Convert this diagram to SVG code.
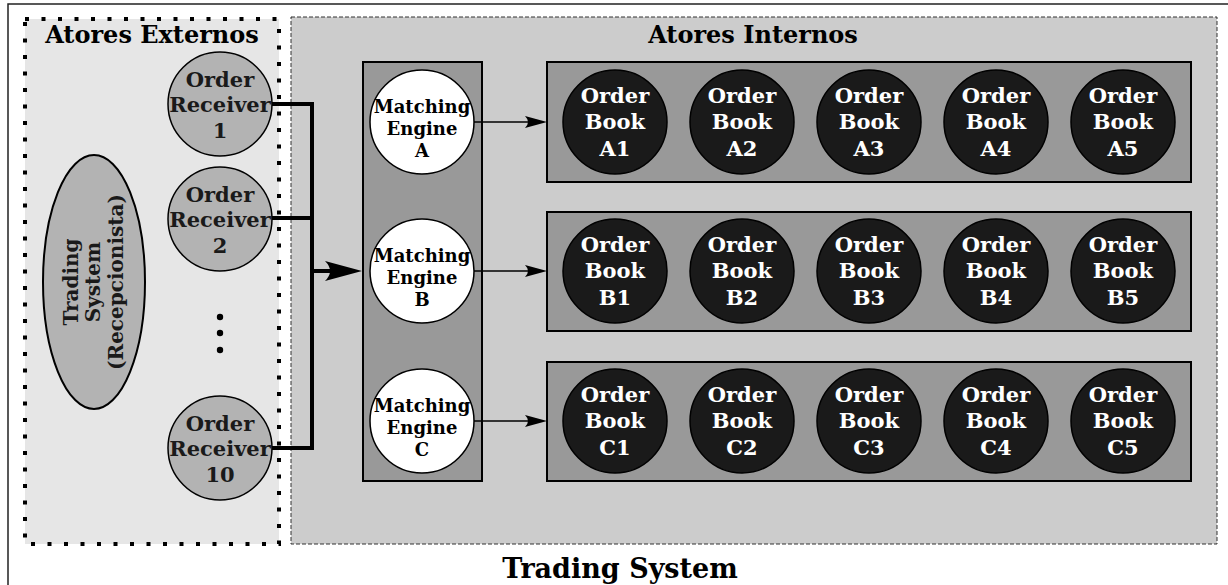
<svg xmlns="http://www.w3.org/2000/svg" width="1228" height="585" viewBox="0 0 1228 585">
<defs>
<style>
text{font-family:"DejaVu Serif","Liberation Serif",serif;font-weight:bold;text-anchor:middle;}
.title{font-size:24px;fill:#000;}
.big{font-size:27px;fill:#000;}
.rcv{fill:#b3b3b3;stroke:#000;stroke-width:1.5;}
.rcvt{font-size:21px;fill:#1a1a1a;}
.rott{font-size:20px;fill:#1a1a1a;}
.me{fill:#fff;stroke:#000;stroke-width:1.5;}
.met{font-size:18px;fill:#000;}
.box{fill:#999;stroke:#000;stroke-width:2;}
.book{fill:#1a1a1a;stroke:#000;stroke-width:1.5;}
.bookt{font-size:21px;fill:#fff;}
.thick{fill:none;stroke:#000;stroke-width:4;}
.thin{fill:none;stroke:#000;stroke-width:1.5;}
</style>
<marker id="bigArrow" markerUnits="userSpaceOnUse" viewBox="0 0 37 20" refX="15" refY="10" markerWidth="37" markerHeight="20" orient="auto" overflow="visible">
<path d="M37,10 L0,0 Q10,10 0,20 Z" fill="#000"/>
</marker>
<marker id="smallArrow" markerUnits="userSpaceOnUse" viewBox="0 0 22 12" refX="8" refY="6" markerWidth="22" markerHeight="12" orient="auto" overflow="visible">
<path d="M22,6 L0,0 Q6,6 0,12 Z" fill="#000"/>
</marker>
</defs>
<rect x="0" y="0" width="1228" height="585" fill="#fff"/>
<rect id="outer" x="8" y="4" width="1230" height="600" fill="none" stroke="#222" stroke-width="1.5"/>
<g id="externos">
<rect x="25" y="19" width="254" height="525" fill="#e6e6e6" stroke="#000" stroke-width="4" stroke-dasharray="4 12.5"/>
<text class="title" x="152" y="43">Atores Externos</text>
</g>
<g id="internos">
<rect x="291" y="17" width="926" height="527" fill="#ccc" stroke="#333" stroke-width="1" stroke-dasharray="4 2"/>
<text class="title" x="753" y="43">Atores Internos</text>
</g>
<text class="big" x="620" y="578">Trading System</text>
<g id="recepcionista">
<ellipse cx="94" cy="282" rx="51" ry="127" fill="#b3b3b3" stroke="#000" stroke-width="2"/>
<g transform="translate(94,282) rotate(-90)">
<text class="rott" x="0" y="-16">Trading</text>
<text class="rott" x="0" y="6">System</text>
<text class="rott" x="0" y="29">(Recepcionista)</text>
</g>
</g>
<g id="receiver1">
<circle class="rcv" cx="220" cy="104" r="52"/>
<text class="rcvt" x="220" y="87">Order</text>
<text class="rcvt" x="220" y="112">Receiver</text>
<text class="rcvt" x="220" y="138">1</text>
</g>
<g id="receiver2">
<circle class="rcv" cx="220" cy="219" r="52"/>
<text class="rcvt" x="220" y="202">Order</text>
<text class="rcvt" x="220" y="227">Receiver</text>
<text class="rcvt" x="220" y="253">2</text>
</g>
<g id="ellipsis" fill="#000">
<circle cx="220" cy="317" r="3.2"/>
<circle cx="220" cy="333" r="3.2"/>
<circle cx="220" cy="350" r="3.2"/>
</g>
<g id="receiver10">
<circle class="rcv" cx="220" cy="448" r="52"/>
<text class="rcvt" x="220" y="431">Order</text>
<text class="rcvt" x="220" y="456">Receiver</text>
<text class="rcvt" x="220" y="482">10</text>
</g>
<g id="engines">
<rect class="box" x="363" y="62" width="119" height="419" stroke-width="1.5"/>
</g>
<g id="engineA">
<circle class="me" cx="422" cy="122" r="52"/>
<text class="met" x="422" y="113">Matching</text>
<text class="met" x="422" y="135">Engine</text>
<text class="met" x="422" y="157">A</text>
</g>
<g id="engineB">
<circle class="me" cx="422" cy="271" r="52"/>
<text class="met" x="422" y="262">Matching</text>
<text class="met" x="422" y="284">Engine</text>
<text class="met" x="422" y="306">B</text>
</g>
<g id="engineC">
<circle class="me" cx="422" cy="421" r="52"/>
<text class="met" x="422" y="412">Matching</text>
<text class="met" x="422" y="434">Engine</text>
<text class="met" x="422" y="456">C</text>
</g>
<g id="rowA">
<rect class="box" x="547" y="62" width="644" height="120"/>
<circle class="book" cx="615" cy="122" r="52"/><text class="bookt" x="615" y="103">Order</text><text class="bookt" x="615" y="129">Book</text><text class="bookt" x="615" y="156">A1</text>
<circle class="book" cx="742" cy="122" r="52"/><text class="bookt" x="742" y="103">Order</text><text class="bookt" x="742" y="129">Book</text><text class="bookt" x="742" y="156">A2</text>
<circle class="book" cx="869" cy="122" r="52"/><text class="bookt" x="869" y="103">Order</text><text class="bookt" x="869" y="129">Book</text><text class="bookt" x="869" y="156">A3</text>
<circle class="book" cx="996" cy="122" r="52"/><text class="bookt" x="996" y="103">Order</text><text class="bookt" x="996" y="129">Book</text><text class="bookt" x="996" y="156">A4</text>
<circle class="book" cx="1123" cy="122" r="52"/><text class="bookt" x="1123" y="103">Order</text><text class="bookt" x="1123" y="129">Book</text><text class="bookt" x="1123" y="156">A5</text>
</g>
<g id="rowB">
<rect class="box" x="547" y="212" width="644" height="119"/>
<circle class="book" cx="615" cy="271" r="52"/><text class="bookt" x="615" y="252">Order</text><text class="bookt" x="615" y="278">Book</text><text class="bookt" x="615" y="305">B1</text>
<circle class="book" cx="742" cy="271" r="52"/><text class="bookt" x="742" y="252">Order</text><text class="bookt" x="742" y="278">Book</text><text class="bookt" x="742" y="305">B2</text>
<circle class="book" cx="869" cy="271" r="52"/><text class="bookt" x="869" y="252">Order</text><text class="bookt" x="869" y="278">Book</text><text class="bookt" x="869" y="305">B3</text>
<circle class="book" cx="996" cy="271" r="52"/><text class="bookt" x="996" y="252">Order</text><text class="bookt" x="996" y="278">Book</text><text class="bookt" x="996" y="305">B4</text>
<circle class="book" cx="1123" cy="271" r="52"/><text class="bookt" x="1123" y="252">Order</text><text class="bookt" x="1123" y="278">Book</text><text class="bookt" x="1123" y="305">B5</text>
</g>
<g id="rowC">
<rect class="box" x="547" y="362" width="644" height="119"/>
<circle class="book" cx="615" cy="421" r="52"/><text class="bookt" x="615" y="402">Order</text><text class="bookt" x="615" y="428">Book</text><text class="bookt" x="615" y="455">C1</text>
<circle class="book" cx="742" cy="421" r="52"/><text class="bookt" x="742" y="402">Order</text><text class="bookt" x="742" y="428">Book</text><text class="bookt" x="742" y="455">C2</text>
<circle class="book" cx="869" cy="421" r="52"/><text class="bookt" x="869" y="402">Order</text><text class="bookt" x="869" y="428">Book</text><text class="bookt" x="869" y="455">C3</text>
<circle class="book" cx="996" cy="421" r="52"/><text class="bookt" x="996" y="402">Order</text><text class="bookt" x="996" y="428">Book</text><text class="bookt" x="996" y="455">C4</text>
<circle class="book" cx="1123" cy="421" r="52"/><text class="bookt" x="1123" y="402">Order</text><text class="bookt" x="1123" y="428">Book</text><text class="bookt" x="1123" y="455">C5</text>
</g>
<g id="connectors">
<path class="thick" d="M272,104 H312 V448 H272"/>
<path class="thick" d="M272,218 H312"/>
<path class="thick" d="M312,271 H340" marker-end="url(#bigArrow)"/>
<path class="thin" d="M474,122 H533" marker-end="url(#smallArrow)"/>
<path class="thin" d="M474,271 H533" marker-end="url(#smallArrow)"/>
<path class="thin" d="M474,421 H533" marker-end="url(#smallArrow)"/>
</g>
</svg>
